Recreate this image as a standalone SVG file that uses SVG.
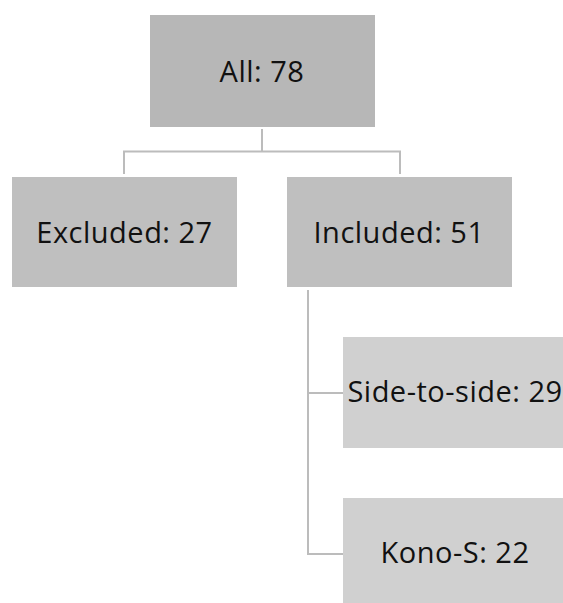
<svg xmlns="http://www.w3.org/2000/svg" width="563" height="603" viewBox="0 0 563 603">
<style>
.t{font-family:"Open Sans","Noto Sans","Liberation Sans",sans-serif;font-size:29px;letter-spacing:0.5px;fill:#111;text-anchor:middle}
.c{fill:none;stroke:#bcbcbc;stroke-width:2}
</style>
<rect width="563" height="603" fill="#fff"/>
<g id="connectors">
<polyline class="c" points="262,129 262,151.5"/>
<polyline class="c" points="124,174 124,151.5 400,151.5 400,174"/>
<polyline class="c" points="308,290 308,554 343,554"/>
<polyline class="c" points="308,393 343,393"/>
</g>
<g id="all"><rect x="150" y="15" width="225" height="112" fill="#b7b7b7"/><text class="t" x="262" y="82">All: 78</text></g>
<g id="excluded"><rect x="12" y="177" width="225" height="110" fill="#bfbfbf"/><text class="t" x="124.5" y="243">Excluded: 27</text></g>
<g id="included"><rect x="287" y="177" width="225" height="110" fill="#bfbfbf"/><text class="t" x="399" y="243">Included: 51</text></g>
<g id="side"><rect x="343" y="337" width="225" height="111" fill="#d0d0d0"/><text class="t" x="455" y="402">Side-to-side: 29</text></g>
<g id="kono"><rect x="343" y="498" width="225" height="111" fill="#d0d0d0"/><text class="t" x="455" y="563">Kono-S: 22</text></g>
</svg>
